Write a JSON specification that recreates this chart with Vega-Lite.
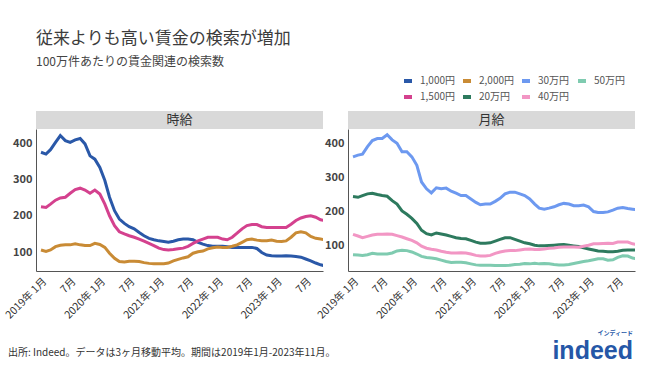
{
"$schema": "https://vega.github.io/schema/vega-lite/v6.json",
"background": "white",
"padding": {"left": 3, "top": 30, "right": 10, "bottom": 10},
"config": {"font": "Noto Sans CJK JP", "view": {"stroke": null}},
"title": {"text": "従来よりも高い賃金の検索が増加", "subtitle": "100万件あたりの賃金関連の検索数", "anchor": "start", "frame": "group", "fontSize": 17, "fontWeight": "normal", "color": "#3c3c3c", "subtitleFontSize": 12, "subtitleColor": "#444", "subtitlePadding": 9, "offset": 6, "dx": 0},
"datasets": {"w": [
{"d":"2019-01","s":"1,000円","v":375},{"d":"2019-02","s":"1,000円","v":370},{"d":"2019-03","s":"1,000円","v":382},{"d":"2019-04","s":"1,000円","v":402},{"d":"2019-05","s":"1,000円","v":421},{"d":"2019-06","s":"1,000円","v":407},{"d":"2019-07","s":"1,000円","v":402},{"d":"2019-08","s":"1,000円","v":409},{"d":"2019-09","s":"1,000円","v":413},{"d":"2019-10","s":"1,000円","v":398},{"d":"2019-11","s":"1,000円","v":365},{"d":"2019-12","s":"1,000円","v":356},
{"d":"2020-01","s":"1,000円","v":333},{"d":"2020-02","s":"1,000円","v":297},{"d":"2020-03","s":"1,000円","v":251},{"d":"2020-04","s":"1,000円","v":214},{"d":"2020-05","s":"1,000円","v":191},{"d":"2020-06","s":"1,000円","v":179},{"d":"2020-07","s":"1,000円","v":170},{"d":"2020-08","s":"1,000円","v":164},{"d":"2020-09","s":"1,000円","v":154},{"d":"2020-10","s":"1,000円","v":145},{"d":"2020-11","s":"1,000円","v":138},{"d":"2020-12","s":"1,000円","v":134},
{"d":"2021-01","s":"1,000円","v":131},{"d":"2021-02","s":"1,000円","v":129},{"d":"2021-03","s":"1,000円","v":127},{"d":"2021-04","s":"1,000円","v":130},{"d":"2021-05","s":"1,000円","v":134},{"d":"2021-06","s":"1,000円","v":136},{"d":"2021-07","s":"1,000円","v":136},{"d":"2021-08","s":"1,000円","v":134},{"d":"2021-09","s":"1,000円","v":127},{"d":"2021-10","s":"1,000円","v":122},{"d":"2021-11","s":"1,000円","v":118},{"d":"2021-12","s":"1,000円","v":116},
{"d":"2022-01","s":"1,000円","v":116},{"d":"2022-02","s":"1,000円","v":116},{"d":"2022-03","s":"1,000円","v":115},{"d":"2022-04","s":"1,000円","v":113},{"d":"2022-05","s":"1,000円","v":113},{"d":"2022-06","s":"1,000円","v":113},{"d":"2022-07","s":"1,000円","v":113},{"d":"2022-08","s":"1,000円","v":113},{"d":"2022-09","s":"1,000円","v":110},{"d":"2022-10","s":"1,000円","v":99},{"d":"2022-11","s":"1,000円","v":92},{"d":"2022-12","s":"1,000円","v":90},
{"d":"2023-01","s":"1,000円","v":89},{"d":"2023-02","s":"1,000円","v":89},{"d":"2023-03","s":"1,000円","v":90},{"d":"2023-04","s":"1,000円","v":89},{"d":"2023-05","s":"1,000円","v":88},{"d":"2023-06","s":"1,000円","v":86},{"d":"2023-07","s":"1,000円","v":81},{"d":"2023-08","s":"1,000円","v":76},{"d":"2023-09","s":"1,000円","v":70},{"d":"2023-10","s":"1,000円","v":65},{"d":"2023-11","s":"1,000円","v":62},
{"d":"2019-01","s":"1,500円","v":225},{"d":"2019-02","s":"1,500円","v":223},{"d":"2019-03","s":"1,500円","v":232},{"d":"2019-04","s":"1,500円","v":243},{"d":"2019-05","s":"1,500円","v":249},{"d":"2019-06","s":"1,500円","v":251},{"d":"2019-07","s":"1,500円","v":262},{"d":"2019-08","s":"1,500円","v":272},{"d":"2019-09","s":"1,500円","v":276},{"d":"2019-10","s":"1,500円","v":271},{"d":"2019-11","s":"1,500円","v":262},{"d":"2019-12","s":"1,500円","v":271},
{"d":"2020-01","s":"1,500円","v":260},{"d":"2020-02","s":"1,500円","v":232},{"d":"2020-03","s":"1,500円","v":200},{"d":"2020-04","s":"1,500円","v":173},{"d":"2020-05","s":"1,500円","v":156},{"d":"2020-06","s":"1,500円","v":150},{"d":"2020-07","s":"1,500円","v":145},{"d":"2020-08","s":"1,500円","v":141},{"d":"2020-09","s":"1,500円","v":136},{"d":"2020-10","s":"1,500円","v":130},{"d":"2020-11","s":"1,500円","v":124},{"d":"2020-12","s":"1,500円","v":118},
{"d":"2021-01","s":"1,500円","v":111},{"d":"2021-02","s":"1,500円","v":107},{"d":"2021-03","s":"1,500円","v":106},{"d":"2021-04","s":"1,500円","v":107},{"d":"2021-05","s":"1,500円","v":109},{"d":"2021-06","s":"1,500円","v":111},{"d":"2021-07","s":"1,500円","v":116},{"d":"2021-08","s":"1,500円","v":124},{"d":"2021-09","s":"1,500円","v":131},{"d":"2021-10","s":"1,500円","v":136},{"d":"2021-11","s":"1,500円","v":141},{"d":"2021-12","s":"1,500円","v":141},
{"d":"2022-01","s":"1,500円","v":141},{"d":"2022-02","s":"1,500円","v":136},{"d":"2022-03","s":"1,500円","v":134},{"d":"2022-04","s":"1,500円","v":141},{"d":"2022-05","s":"1,500円","v":152},{"d":"2022-06","s":"1,500円","v":164},{"d":"2022-07","s":"1,500円","v":173},{"d":"2022-08","s":"1,500円","v":176},{"d":"2022-09","s":"1,500円","v":176},{"d":"2022-10","s":"1,500円","v":170},{"d":"2022-11","s":"1,500円","v":168},{"d":"2022-12","s":"1,500円","v":168},
{"d":"2023-01","s":"1,500円","v":168},{"d":"2023-02","s":"1,500円","v":168},{"d":"2023-03","s":"1,500円","v":168},{"d":"2023-04","s":"1,500円","v":177},{"d":"2023-05","s":"1,500円","v":187},{"d":"2023-06","s":"1,500円","v":194},{"d":"2023-07","s":"1,500円","v":198},{"d":"2023-08","s":"1,500円","v":200},{"d":"2023-09","s":"1,500円","v":196},{"d":"2023-10","s":"1,500円","v":189},{"d":"2023-11","s":"1,500円","v":186},
{"d":"2019-01","s":"2,000円","v":106},{"d":"2019-02","s":"2,000円","v":102},{"d":"2019-03","s":"2,000円","v":106},{"d":"2019-04","s":"2,000円","v":115},{"d":"2019-05","s":"2,000円","v":119},{"d":"2019-06","s":"2,000円","v":120},{"d":"2019-07","s":"2,000円","v":120},{"d":"2019-08","s":"2,000円","v":123},{"d":"2019-09","s":"2,000円","v":120},{"d":"2019-10","s":"2,000円","v":118},{"d":"2019-11","s":"2,000円","v":118},{"d":"2019-12","s":"2,000円","v":124},
{"d":"2020-01","s":"2,000円","v":121},{"d":"2020-02","s":"2,000円","v":113},{"d":"2020-03","s":"2,000円","v":97},{"d":"2020-04","s":"2,000円","v":83},{"d":"2020-05","s":"2,000円","v":74},{"d":"2020-06","s":"2,000円","v":73},{"d":"2020-07","s":"2,000円","v":75},{"d":"2020-08","s":"2,000円","v":75},{"d":"2020-09","s":"2,000円","v":74},{"d":"2020-10","s":"2,000円","v":71},{"d":"2020-11","s":"2,000円","v":69},{"d":"2020-12","s":"2,000円","v":68},
{"d":"2021-01","s":"2,000円","v":68},{"d":"2021-02","s":"2,000円","v":68},{"d":"2021-03","s":"2,000円","v":70},{"d":"2021-04","s":"2,000円","v":76},{"d":"2021-05","s":"2,000円","v":80},{"d":"2021-06","s":"2,000円","v":84},{"d":"2021-07","s":"2,000円","v":87},{"d":"2021-08","s":"2,000円","v":97},{"d":"2021-09","s":"2,000円","v":101},{"d":"2021-10","s":"2,000円","v":103},{"d":"2021-11","s":"2,000円","v":109},{"d":"2021-12","s":"2,000円","v":112},
{"d":"2022-01","s":"2,000円","v":114},{"d":"2022-02","s":"2,000円","v":113},{"d":"2022-03","s":"2,000円","v":113},{"d":"2022-04","s":"2,000円","v":116},{"d":"2022-05","s":"2,000円","v":120},{"d":"2022-06","s":"2,000円","v":127},{"d":"2022-07","s":"2,000円","v":134},{"d":"2022-08","s":"2,000円","v":136},{"d":"2022-09","s":"2,000円","v":133},{"d":"2022-10","s":"2,000円","v":131},{"d":"2022-11","s":"2,000円","v":131},{"d":"2022-12","s":"2,000円","v":133},
{"d":"2023-01","s":"2,000円","v":130},{"d":"2023-02","s":"2,000円","v":129},{"d":"2023-03","s":"2,000円","v":131},{"d":"2023-04","s":"2,000円","v":141},{"d":"2023-05","s":"2,000円","v":153},{"d":"2023-06","s":"2,000円","v":156},{"d":"2023-07","s":"2,000円","v":153},{"d":"2023-08","s":"2,000円","v":143},{"d":"2023-09","s":"2,000円","v":138},{"d":"2023-10","s":"2,000円","v":136},{"d":"2023-11","s":"2,000円","v":134},
{"d":"2019-01","s":"20万円","v":243},{"d":"2019-02","s":"20万円","v":241},{"d":"2019-03","s":"20万円","v":246},{"d":"2019-04","s":"20万円","v":251},{"d":"2019-05","s":"20万円","v":253},{"d":"2019-06","s":"20万円","v":249},{"d":"2019-07","s":"20万円","v":246},{"d":"2019-08","s":"20万円","v":244},{"d":"2019-09","s":"20万円","v":231},{"d":"2019-10","s":"20万円","v":221},{"d":"2019-11","s":"20万円","v":201},{"d":"2019-12","s":"20万円","v":191},
{"d":"2020-01","s":"20万円","v":179},{"d":"2020-02","s":"20万円","v":164},{"d":"2020-03","s":"20万円","v":144},{"d":"2020-04","s":"20万円","v":134},{"d":"2020-05","s":"20万円","v":130},{"d":"2020-06","s":"20万円","v":136},{"d":"2020-07","s":"20万円","v":133},{"d":"2020-08","s":"20万円","v":130},{"d":"2020-09","s":"20万円","v":126},{"d":"2020-10","s":"20万円","v":122},{"d":"2020-11","s":"20万円","v":120},{"d":"2020-12","s":"20万円","v":119},
{"d":"2021-01","s":"20万円","v":114},{"d":"2021-02","s":"20万円","v":109},{"d":"2021-03","s":"20万円","v":106},{"d":"2021-04","s":"20万円","v":106},{"d":"2021-05","s":"20万円","v":107},{"d":"2021-06","s":"20万円","v":112},{"d":"2021-07","s":"20万円","v":117},{"d":"2021-08","s":"20万円","v":122},{"d":"2021-09","s":"20万円","v":122},{"d":"2021-10","s":"20万円","v":117},{"d":"2021-11","s":"20万円","v":112},{"d":"2021-12","s":"20万円","v":107},
{"d":"2022-01","s":"20万円","v":104},{"d":"2022-02","s":"20万円","v":100},{"d":"2022-03","s":"20万円","v":98},{"d":"2022-04","s":"20万円","v":98},{"d":"2022-05","s":"20万円","v":99},{"d":"2022-06","s":"20万円","v":100},{"d":"2022-07","s":"20万円","v":101},{"d":"2022-08","s":"20万円","v":102},{"d":"2022-09","s":"20万円","v":100},{"d":"2022-10","s":"20万円","v":98},{"d":"2022-11","s":"20万円","v":96},{"d":"2022-12","s":"20万円","v":92},
{"d":"2023-01","s":"20万円","v":89},{"d":"2023-02","s":"20万円","v":86},{"d":"2023-03","s":"20万円","v":83},{"d":"2023-04","s":"20万円","v":82},{"d":"2023-05","s":"20万円","v":81},{"d":"2023-06","s":"20万円","v":81},{"d":"2023-07","s":"20万円","v":82},{"d":"2023-08","s":"20万円","v":85},{"d":"2023-09","s":"20万円","v":86},{"d":"2023-10","s":"20万円","v":86},{"d":"2023-11","s":"20万円","v":86},
{"d":"2019-01","s":"30万円","v":360},{"d":"2019-02","s":"30万円","v":365},{"d":"2019-03","s":"30万円","v":368},{"d":"2019-04","s":"30万円","v":390},{"d":"2019-05","s":"30万円","v":408},{"d":"2019-06","s":"30万円","v":414},{"d":"2019-07","s":"30万円","v":414},{"d":"2019-08","s":"30万円","v":425},{"d":"2019-09","s":"30万円","v":410},{"d":"2019-10","s":"30万円","v":400},{"d":"2019-11","s":"30万円","v":375},{"d":"2019-12","s":"30万円","v":375},
{"d":"2020-01","s":"30万円","v":360},{"d":"2020-02","s":"30万円","v":335},{"d":"2020-03","s":"30万円","v":286},{"d":"2020-04","s":"30万円","v":266},{"d":"2020-05","s":"30万円","v":254},{"d":"2020-06","s":"30万円","v":269},{"d":"2020-07","s":"30万円","v":266},{"d":"2020-08","s":"30万円","v":268},{"d":"2020-09","s":"30万円","v":259},{"d":"2020-10","s":"30万円","v":253},{"d":"2020-11","s":"30万円","v":246},{"d":"2020-12","s":"30万円","v":246},
{"d":"2021-01","s":"30万円","v":236},{"d":"2021-02","s":"30万円","v":226},{"d":"2021-03","s":"30万円","v":219},{"d":"2021-04","s":"30万円","v":221},{"d":"2021-05","s":"30万円","v":221},{"d":"2021-06","s":"30万円","v":229},{"d":"2021-07","s":"30万円","v":238},{"d":"2021-08","s":"30万円","v":251},{"d":"2021-09","s":"30万円","v":256},{"d":"2021-10","s":"30万円","v":256},{"d":"2021-11","s":"30万円","v":251},{"d":"2021-12","s":"30万円","v":246},
{"d":"2022-01","s":"30万円","v":236},{"d":"2022-02","s":"30万円","v":221},{"d":"2022-03","s":"30万円","v":209},{"d":"2022-04","s":"30万円","v":206},{"d":"2022-05","s":"30万円","v":209},{"d":"2022-06","s":"30万円","v":213},{"d":"2022-07","s":"30万円","v":219},{"d":"2022-08","s":"30万円","v":223},{"d":"2022-09","s":"30万円","v":221},{"d":"2022-10","s":"30万円","v":216},{"d":"2022-11","s":"30万円","v":216},{"d":"2022-12","s":"30万円","v":218},
{"d":"2023-01","s":"30万円","v":213},{"d":"2023-02","s":"30万円","v":199},{"d":"2023-03","s":"30万円","v":196},{"d":"2023-04","s":"30万円","v":196},{"d":"2023-05","s":"30万円","v":198},{"d":"2023-06","s":"30万円","v":203},{"d":"2023-07","s":"30万円","v":209},{"d":"2023-08","s":"30万円","v":211},{"d":"2023-09","s":"30万円","v":208},{"d":"2023-10","s":"30万円","v":206},{"d":"2023-11","s":"30万円","v":204},
{"d":"2019-01","s":"40万円","v":132},{"d":"2019-02","s":"40万円","v":127},{"d":"2019-03","s":"40万円","v":122},{"d":"2019-04","s":"40万円","v":126},{"d":"2019-05","s":"40万円","v":130},{"d":"2019-06","s":"40万円","v":132},{"d":"2019-07","s":"40万円","v":132},{"d":"2019-08","s":"40万円","v":133},{"d":"2019-09","s":"40万円","v":132},{"d":"2019-10","s":"40万円","v":128},{"d":"2019-11","s":"40万円","v":124},{"d":"2019-12","s":"40万円","v":119},
{"d":"2020-01","s":"40万円","v":114},{"d":"2020-02","s":"40万円","v":107},{"d":"2020-03","s":"40万円","v":97},{"d":"2020-04","s":"40万円","v":91},{"d":"2020-05","s":"40万円","v":88},{"d":"2020-06","s":"40万円","v":86},{"d":"2020-07","s":"40万円","v":82},{"d":"2020-08","s":"40万円","v":79},{"d":"2020-09","s":"40万円","v":77},{"d":"2020-10","s":"40万円","v":77},{"d":"2020-11","s":"40万円","v":78},{"d":"2020-12","s":"40万円","v":77},
{"d":"2021-01","s":"40万円","v":74},{"d":"2021-02","s":"40万円","v":70},{"d":"2021-03","s":"40万円","v":68},{"d":"2021-04","s":"40万円","v":68},{"d":"2021-05","s":"40万円","v":70},{"d":"2021-06","s":"40万円","v":76},{"d":"2021-07","s":"40万円","v":80},{"d":"2021-08","s":"40万円","v":83},{"d":"2021-09","s":"40万円","v":84},{"d":"2021-10","s":"40万円","v":84},{"d":"2021-11","s":"40万円","v":86},{"d":"2021-12","s":"40万円","v":88},
{"d":"2022-01","s":"40万円","v":89},{"d":"2022-02","s":"40万円","v":87},{"d":"2022-03","s":"40万円","v":87},{"d":"2022-04","s":"40万円","v":89},{"d":"2022-05","s":"40万円","v":91},{"d":"2022-06","s":"40万円","v":92},{"d":"2022-07","s":"40万円","v":94},{"d":"2022-08","s":"40万円","v":95},{"d":"2022-09","s":"40万円","v":95},{"d":"2022-10","s":"40万円","v":95},{"d":"2022-11","s":"40万円","v":94},{"d":"2022-12","s":"40万円","v":97},
{"d":"2023-01","s":"40万円","v":100},{"d":"2023-02","s":"40万円","v":104},{"d":"2023-03","s":"40万円","v":104},{"d":"2023-04","s":"40万円","v":105},{"d":"2023-05","s":"40万円","v":106},{"d":"2023-06","s":"40万円","v":105},{"d":"2023-07","s":"40万円","v":109},{"d":"2023-08","s":"40万円","v":109},{"d":"2023-09","s":"40万円","v":109},{"d":"2023-10","s":"40万円","v":104},{"d":"2023-11","s":"40万円","v":102},
{"d":"2019-01","s":"50万円","v":72},{"d":"2019-02","s":"50万円","v":71},{"d":"2019-03","s":"50万円","v":70},{"d":"2019-04","s":"50万円","v":72},{"d":"2019-05","s":"50万円","v":76},{"d":"2019-06","s":"50万円","v":74},{"d":"2019-07","s":"50万円","v":74},{"d":"2019-08","s":"50万円","v":74},{"d":"2019-09","s":"50万円","v":77},{"d":"2019-10","s":"50万円","v":83},{"d":"2019-11","s":"50万円","v":85},{"d":"2019-12","s":"50万円","v":84},
{"d":"2020-01","s":"50万円","v":80},{"d":"2020-02","s":"50万円","v":74},{"d":"2020-03","s":"50万円","v":67},{"d":"2020-04","s":"50万円","v":64},{"d":"2020-05","s":"50万円","v":62},{"d":"2020-06","s":"50万円","v":60},{"d":"2020-07","s":"50万円","v":56},{"d":"2020-08","s":"50万円","v":52},{"d":"2020-09","s":"50万円","v":49},{"d":"2020-10","s":"50万円","v":50},{"d":"2020-11","s":"50万円","v":50},{"d":"2020-12","s":"50万円","v":48},
{"d":"2021-01","s":"50万円","v":45},{"d":"2021-02","s":"50万円","v":42},{"d":"2021-03","s":"50万円","v":41},{"d":"2021-04","s":"50万円","v":41},{"d":"2021-05","s":"50万円","v":41},{"d":"2021-06","s":"50万円","v":40},{"d":"2021-07","s":"50万円","v":40},{"d":"2021-08","s":"50万円","v":40},{"d":"2021-09","s":"50万円","v":41},{"d":"2021-10","s":"50万円","v":43},{"d":"2021-11","s":"50万円","v":44},{"d":"2021-12","s":"50万円","v":46},
{"d":"2022-01","s":"50万円","v":45},{"d":"2022-02","s":"50万円","v":47},{"d":"2022-03","s":"50万円","v":45},{"d":"2022-04","s":"50万円","v":46},{"d":"2022-05","s":"50万円","v":45},{"d":"2022-06","s":"50万円","v":43},{"d":"2022-07","s":"50万円","v":42},{"d":"2022-08","s":"50万円","v":42},{"d":"2022-09","s":"50万円","v":43},{"d":"2022-10","s":"50万円","v":46},{"d":"2022-11","s":"50万円","v":49},{"d":"2022-12","s":"50万円","v":52},
{"d":"2023-01","s":"50万円","v":54},{"d":"2023-02","s":"50万円","v":57},{"d":"2023-03","s":"50万円","v":60},{"d":"2023-04","s":"50万円","v":60},{"d":"2023-05","s":"50万円","v":56},{"d":"2023-06","s":"50万円","v":57},{"d":"2023-07","s":"50万円","v":64},{"d":"2023-08","s":"50万円","v":69},{"d":"2023-09","s":"50万円","v":68},{"d":"2023-10","s":"50万円","v":62},{"d":"2023-11","s":"50万円","v":60}
]},
"columns": 2,
"bounds": "flush",
"spacing": {"row": 0, "column": 25},
"concat": [
  {"data": {"values": [{"t": "時給"}]}, "width": 287, "height": 18, "view": {"fill": "#d9d9d9", "stroke": null},
   "mark": {"type": "text", "fontSize": 13, "color": "#333"}, "encoding": {"text": {"field": "t"}}},
  {"data": {"values": [{"t": "月給"}]}, "width": 287, "height": 18, "view": {"fill": "#d9d9d9", "stroke": null},
   "mark": {"type": "text", "fontSize": 13, "color": "#333"}, "encoding": {"text": {"field": "t"}}},
  {"data": {"name": "w"},
   "transform": [{"filter": {"field": "s", "oneOf": ["1,000円", "1,500円", "2,000円"]}}],
   "width": 287, "height": 142,
   "title": {"text": "出所: Indeed。データは3ヶ月移動平均。期間は2019年1月-2023年11月。", "orient": "bottom", "anchor": "start", "frame": "group", "fontSize": 10, "fontWeight": "normal", "color": "#333", "dx": -28, "offset": 27},
   "mark": {"type": "line", "strokeWidth": 3, "clip": true},
   "encoding": {
    "x": {"field": "d", "type": "temporal", "title": null,
      "scale": {"type": "utc", "domain": [{"year": 2018, "month": 12, "date": 1, "utc": true}, {"year": 2023, "month": 10, "date": 16, "utc": true}]},
      "axis": {"values": [{"year": 2019, "month": 1, "date": 1, "utc": true}, {"year": 2019, "month": 7, "date": 1, "utc": true}, {"year": 2020, "month": 1, "date": 1, "utc": true}, {"year": 2020, "month": 7, "date": 1, "utc": true}, {"year": 2021, "month": 1, "date": 1, "utc": true}, {"year": 2021, "month": 7, "date": 1, "utc": true}, {"year": 2022, "month": 1, "date": 1, "utc": true}, {"year": 2022, "month": 7, "date": 1, "utc": true}, {"year": 2023, "month": 1, "date": 1, "utc": true}, {"year": 2023, "month": 7, "date": 1, "utc": true}],
        "labelExpr": "utcmonth(datum.value) == 0 ? utcyear(datum.value) + '年 1月' : '7月'",
        "labelAngle": -45, "labelOverlap": false, "labelBound": false, "ticks": false, "grid": false, "domainColor": "#555", "labelColor": "#333", "labelFontSize": 10.5, "labelPadding": 5}},
    "y": {"field": "v", "type": "quantitative", "title": null,
      "scale": {"domain": [48, 439], "nice": false, "zero": false},
      "axis": {"values": [100, 200, 300, 400], "ticks": false, "grid": false, "domainColor": "#555", "labelColor": "#444", "labelFontSize": 11, "labelFontWeight": "bold", "labelPadding": 4}},
    "color": {"field": "s", "type": "nominal",
      "scale": {"domain": ["1,000円", "2,000円", "30万円", "50万円", "1,500円", "20万円", "40万円"], "range": ["#2a58a8", "#c98b35", "#6d99f0", "#7fcbb0", "#d4418e", "#2d7a5e", "#f296c4"]},
      "legend": {"title": null, "orient": "none", "legendX": 366, "legendY": -36, "columns": 4, "direction": "horizontal", "symbolType": "stroke", "symbolStrokeWidth": 4, "symbolSize": 64, "labelFontSize": 10, "labelColor": "#555", "columnPadding": 0, "rowPadding": 0, "labelOffset": 6}}
   }},
  {"data": {"name": "w"},
   "transform": [{"filter": {"field": "s", "oneOf": ["20万円", "30万円", "40万円", "50万円"]}}],
   "width": 287, "height": 142,
   "title": {"text": "インディード", "subtitle": "indeed", "orient": "bottom", "anchor": "end", "frame": "group", "fontSize": 6, "fontWeight": "bold", "color": "#2557a7", "subtitleFont": "Liberation Sans", "subtitleFontSize": 25, "subtitleFontWeight": "bold", "subtitleColor": "#2557a7", "subtitlePadding": 3, "dx": -2, "offset": 9},
   "mark": {"type": "line", "strokeWidth": 3, "clip": true},
   "encoding": {
    "x": {"field": "d", "type": "temporal", "title": null,
      "scale": {"type": "utc", "domain": [{"year": 2018, "month": 12, "date": 1, "utc": true}, {"year": 2023, "month": 10, "date": 16, "utc": true}]},
      "axis": {"values": [{"year": 2019, "month": 1, "date": 1, "utc": true}, {"year": 2019, "month": 7, "date": 1, "utc": true}, {"year": 2020, "month": 1, "date": 1, "utc": true}, {"year": 2020, "month": 7, "date": 1, "utc": true}, {"year": 2021, "month": 1, "date": 1, "utc": true}, {"year": 2021, "month": 7, "date": 1, "utc": true}, {"year": 2022, "month": 1, "date": 1, "utc": true}, {"year": 2022, "month": 7, "date": 1, "utc": true}, {"year": 2023, "month": 1, "date": 1, "utc": true}, {"year": 2023, "month": 7, "date": 1, "utc": true}],
        "labelExpr": "utcmonth(datum.value) == 0 ? utcyear(datum.value) + '年 1月' : '7月'",
        "labelAngle": -45, "labelOverlap": false, "labelBound": false, "ticks": false, "grid": false, "domainColor": "#555", "labelColor": "#333", "labelFontSize": 10.5, "labelPadding": 5}},
    "y": {"field": "v", "type": "quantitative", "title": null,
      "scale": {"domain": [24, 442], "nice": false, "zero": false},
      "axis": {"values": [100, 200, 300, 400], "ticks": false, "grid": false, "domainColor": "#555", "labelColor": "#444", "labelFontSize": 11, "labelFontWeight": "bold", "labelPadding": 4}},
    "color": {"field": "s", "type": "nominal",
      "scale": {"domain": ["1,000円", "2,000円", "30万円", "50万円", "1,500円", "20万円", "40万円"], "range": ["#2a58a8", "#c98b35", "#6d99f0", "#7fcbb0", "#d4418e", "#2d7a5e", "#f296c4"]}}
   }}
]
}
